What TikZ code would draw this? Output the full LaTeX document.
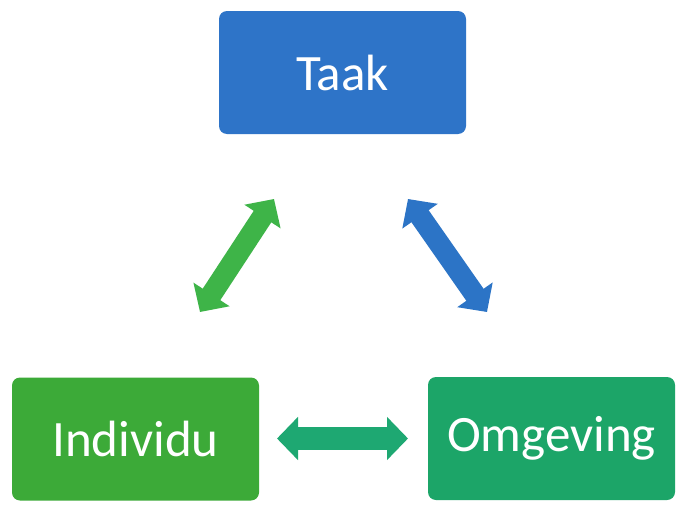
\documentclass[tikz,border=0pt]{standalone}
\usepackage{fontspec}
\setmainfont{Carlito}
\usetikzlibrary{arrows.meta}
\definecolor{taakblue}{RGB}{46,116,200}
\definecolor{indgreen}{RGB}{60,170,56}
\definecolor{omgreen}{RGB}{28,165,104}
\definecolor{arrgreen}{RGB}{62,180,72}
\definecolor{arrblue}{RGB}{44,116,198}
\definecolor{arrteal}{RGB}{30,168,114}
\tikzset{
  box/.style={rounded corners=8pt, minimum width=247pt, minimum height=123pt,
    inner sep=0pt, text=white, font=\fontsize{51}{55}\selectfont},
  fatarrow/.style={line width=21pt,
    {Triangle[length=21pt,width=42pt]}-{Triangle[length=21pt,width=42pt]}}
}
\begin{document}
\begin{tikzpicture}[x=1pt,y=-1pt]
\useasboundingbox[fill=white] (0,0) rectangle (678,506);
\node[box, fill=taakblue] (taak) at (342.5,72.5) {Taak};
\node[box, fill=indgreen] (ind) at (135.5,439) {Individu};
\node[box, fill=omgreen] (omg) at (551.5,438.5) {Omgeving};
\coordinate (g1) at (200,312);
\coordinate (g2) at (274,199);
\coordinate (b1) at (408,199);
\coordinate (b2) at (487,312);
\coordinate (h1) at (277,438.5);
\coordinate (h2) at (408,438.5);
\draw[fatarrow, draw=arrgreen, fill=arrgreen] (g1) -- (g2);
\draw[fatarrow, draw=arrblue, fill=arrblue] (b1) -- (b2);
\draw[fatarrow, line width=23pt, draw=arrteal, fill=arrteal] (h1) -- (h2);
\end{tikzpicture}
\end{document}
